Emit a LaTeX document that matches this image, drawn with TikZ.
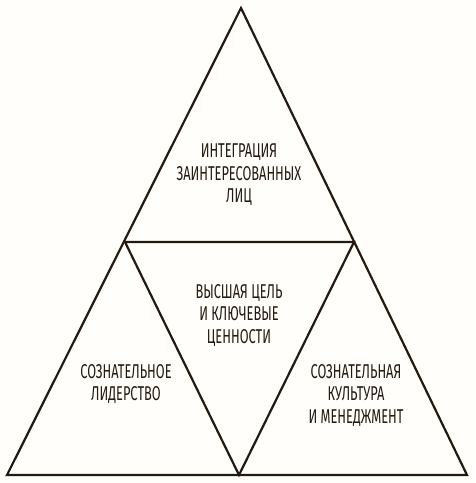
\documentclass[tikz,border=0pt]{standalone}
\usepackage{fontspec}
\setmainfont{Fira Sans}[FakeStretch=0.64]
\definecolor{ink}{HTML}{241910}
\definecolor{paper}{HTML}{FFFEFA}
\begin{document}
\begin{tikzpicture}[x=1pt,y=-1pt,
  edge/.style={draw=ink,line width=2.2pt,line join=miter},
  lbl/.style={text=ink,align=center,font=\fontsize{20}{22.5}\selectfont,inner sep=0pt}]
\fill[paper] (0,0) rectangle (475,483);
\useasboundingbox (0,0) rectangle (475,483);
\coordinate (A) at (241,8);
\coordinate (BL) at (7,475);
\coordinate (BR) at (467,475);
\coordinate (ML) at (125,242);
\coordinate (MR) at (354,242);
\coordinate (MB) at (239,475);
\draw[edge] (A) -- (BR) -- (BL) -- cycle;
\draw[edge] (ML) -- (MR) -- (MB) -- cycle;
\node[lbl] (top) at (239,175) {ИНТЕГРАЦИЯ\\ЗАИНТЕРЕСОВАННЫХ\\ЛИЦ};
\node[lbl] (mid) at (239,315) {ВЫСШАЯ ЦЕЛЬ\\И КЛЮЧЕВЫЕ\\ЦЕННОСТИ};
\node[lbl] (left) at (126,384) {СОЗНАТЕЛЬНОЕ\\ЛИДЕРСТВО};
\node[lbl] (right) at (356,395) {СОЗНАТЕЛЬНАЯ\\КУЛЬТУРА\\И МЕНЕДЖМЕНТ};
\end{tikzpicture}
\end{document}
